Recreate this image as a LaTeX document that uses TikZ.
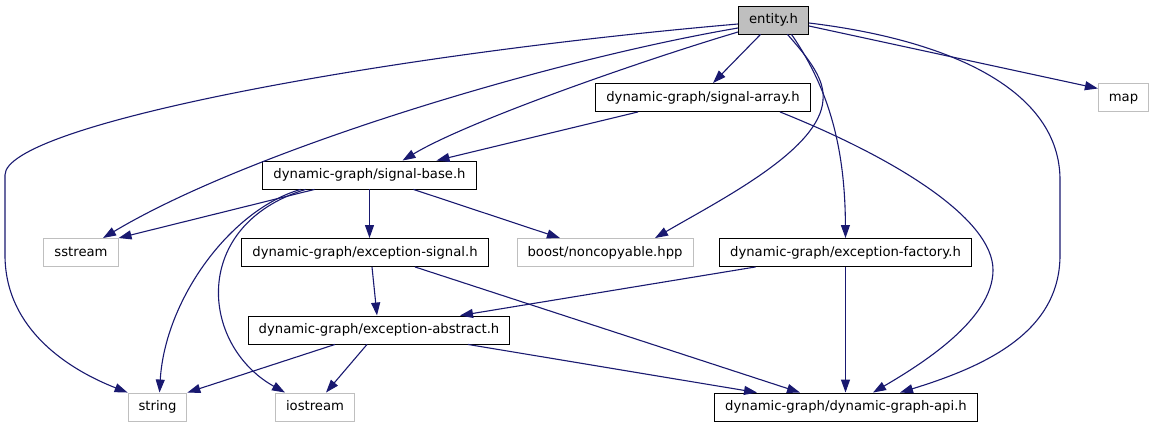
\documentclass[tikz,border=0pt]{standalone}
\usepackage{fontspec}
\setmainfont{DejaVu Sans}
\usepackage{xcolor}
\usepackage{tikz}
\usetikzlibrary{arrows.meta}
\definecolor{edgeblue}{RGB}{25,25,112}
\definecolor{extgray}{RGB}{191,191,191}
\tikzset{
  hnode/.style={draw, line width=0.9pt, font=\fontsize{13.2}{15}\selectfont, inner xsep=10.5pt, inner ysep=0pt, minimum height=28pt, text height=9.8pt, text depth=2.7pt},
  proj/.style={hnode, draw=black},
  ext/.style={hnode, draw=extgray},
  cur/.style={proj, fill=extgray},
  arr/.style={-{Triangle[length=13pt, width=9pt]}, draw=edgeblue, line width=1.1pt},
}

\begin{document}
\begin{tikzpicture}[x=1pt, y=-1pt]
\useasboundingbox (0,0) rectangle (1155,427);
\node[cur] (entity) at (773.5,20) {entity.h};
\node[proj] (signalarray) at (703,97.5) {dynamic-graph/signal-array.h};
\node[ext] (map) at (1123.5,97.5) {map};
\node[proj] (signalbase) at (369.5,175) {dynamic-graph/signal-base.h};
\node[ext] (sstream) at (81,252.5) {sstream};
\node[proj] (excsignal) at (365,252.5) {dynamic-graph/exception-signal.h};
\node[ext] (noncopyable) at (605,252.5) {boost/noncopyable.hpp};
\node[proj] (excfactory) at (845.5,252.5) {dynamic-graph/exception-factory.h};
\node[proj] (excabstract) at (379,330) {dynamic-graph/exception-abstract.h};
\node[ext] (string) at (157.5,407) {string};
\node[ext] (iostream) at (315,407) {iostream};
\node[proj] (api) at (846,407) {dynamic-graph/dynamic-graph-api.h};
% straight includes
\foreach \from/\fx/\fy/\to/\tx/\ty in {
    entity.south/-13/0/signalarray.north/10/0,
    entity.east/0/6/map.west/0/-9,
    signalarray.south/-65/0/signalbase.north/67/0,
    signalbase.south/-55/0/sstream.north east/0/0,
    signalbase.south/44/0/noncopyable.north/-45/0,
    excsignal.south/7/0/excabstract.north/-2/0,
    excsignal.south/50/0/api.north/-46/0,
    excfactory.south/-90/0/excabstract.north/81/0,
    excabstract.south/-44/0/string.north east/0/0,
    excabstract.south/-12/0/iostream.north/11/0,
    excabstract.south/89/0/api.north/-89/0}
  \draw[arr] ([shift={(\fx,\fy)}]\from) -- ([shift={(\tx,\ty)}]\to);
\draw[arr] (signalbase.south) -- (signalbase.south |- excsignal.north);
\draw[arr] (excfactory.south) -- (excfactory.south |- api.north);
% curved includes
\draw[arr] ([yshift=-12pt]entity.west) .. controls (650,58) and (470,120) .. ([xshift=33pt]signalbase.north);
\draw[arr] ([yshift=-8pt]entity.west) .. controls (550,60) and (250,150) .. ([xshift=22pt]sstream.north);
\draw[arr] ([yshift=-4pt]entity.west) .. controls (380,55) and (5,125) .. (5,175) -- (5,255)
  .. controls (5,330) and (70,370) .. (string.north west);
\draw[arr] ([xshift=14pt]entity.south) .. controls (810,60) and (825,80) .. (823,100)
  .. controls (820,150) and (720,200) .. ([xshift=50pt]noncopyable.north);
\draw[arr] ([xshift=18pt]entity.south) .. controls (830,90) and (845,150) .. (excfactory.north);
\draw[arr] ([yshift=-3pt]entity.east) .. controls (950,40) and (1060,90) .. (1060,180) -- (1060,255)
  .. controls (1060,330) and (990,365) .. ([xshift=54pt]api.north);
\draw[arr] ([xshift=77pt]signalarray.south) .. controls (900,160) and (993,220) .. (993,270)
  .. controls (993,320) and (920,365) .. ([xshift=27pt]api.north);
\draw[arr] ([xshift=-69pt]signalbase.south) .. controls (230,210) and (165,300) .. ([xshift=2pt]string.north);
\draw[arr] ([xshift=-64pt]signalbase.south) .. controls (190,225) and (200,345) .. ([xshift=-30pt]iostream.north);
\end{tikzpicture}
\end{document}
